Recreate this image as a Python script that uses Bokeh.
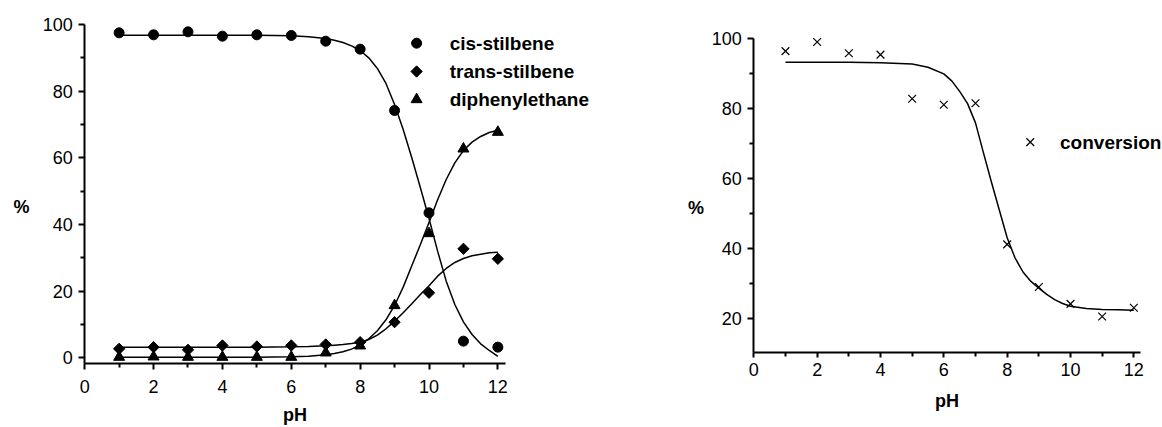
import math
from bokeh.plotting import figure
from bokeh.models import Range1d, FixedTicker, Label
from bokeh.layouts import row
from bokeh.embed import file_html
from bokeh.resources import INLINE

# ---------------- data ----------------
ph = [1, 2, 3, 4, 5, 6, 7, 8, 9, 10, 11, 12]
cis_stilbene = [97.5, 96.9, 97.8, 96.5, 96.9, 96.7, 95.0, 92.6, 74.2, 43.5, 5.0, 3.2]
trans_stilbene = [2.7, 3.2, 2.4, 3.7, 3.4, 3.7, 4.0, 4.7, 10.7, 19.5, 32.7, 29.7]
diphenylethane = [0.2, 0.3, 0.2, 0.2, 0.2, 0.2, 1.5, 3.6, 15.7, 37.3, 62.7, 67.7]

# fitted curves
fit_ph = [1, 2, 3, 4, 5, 6, 6.5, 7, 7.25, 7.5, 7.75, 8, 8.25, 8.5, 8.75, 9,
          9.25, 9.5, 9.75, 10, 10.25, 10.5, 10.75, 11, 11.25, 11.5, 11.75, 12]
cis_fit = [96.8, 96.8, 96.8, 96.8, 96.8, 96.6, 96.3, 95.8, 95.3, 94.6, 93.6, 92.2,
           90.0, 86.8, 82.3, 76.0, 68.5, 60.0, 51.0, 41.8, 32.0, 23.0, 16.0, 10.8,
           7.0, 4.2, 2.2, 0.4]
trans_fit = [3.2, 3.2, 3.2, 3.2, 3.2, 3.3, 3.4, 3.6, 3.8, 4.0, 4.3, 4.7,
             5.5, 6.8, 8.7, 11.0, 13.5, 16.2, 19.0, 21.6, 24.5, 26.8, 28.6, 29.8,
             30.6, 31.1, 31.5, 31.7]
diph_fit = [0.2, 0.2, 0.2, 0.2, 0.2, 0.3, 0.5, 0.9, 1.3, 1.8, 2.6, 3.9,
            5.7, 8.1, 11.4, 15.7, 21.2, 27.6, 34.0, 40.6, 47.4, 53.5, 58.5, 62.2,
            64.7, 66.4, 67.6, 68.3]

conversion = [96.3, 98.9, 95.7, 95.3, 82.7, 81.0, 81.4, 41.1, 28.9, 24.1, 20.5, 23.0]
conv_fit_ph = [1, 2, 3, 4, 5, 5.5, 6, 6.25, 6.5, 6.75, 7, 7.25, 7.5, 7.75, 8, 8.25,
               8.5, 8.75, 9, 9.25, 9.5, 9.75, 10, 10.5, 11, 11.5, 12]
conv_fit = [93.1, 93.1, 93.1, 93.0, 92.6, 91.7, 89.8, 87.8, 84.8, 81.3, 75.8, 67.3,
            59.0, 51.0, 43.0, 37.2, 33.2, 30.5, 28.6, 26.8, 25.3, 24.2, 23.4, 22.8,
            22.5, 22.4, 22.3]

x_major = [0, 2, 4, 6, 8, 10, 12]
x_minor = [1, 3, 5, 7, 9, 11]
y1_major = [0, 20, 40, 60, 80, 100]
y1_minor = [10, 30, 50, 70, 90]
y2_major = [20, 40, 60, 80, 100]
y2_minor = [30, 50, 70, 90]

FONT = "Liberation Sans"


def make_fig(width, xr, yr):
    p = figure(width=width, height=427, x_range=Range1d(*xr), y_range=Range1d(*yr),
               output_backend="svg", toolbar_location=None,
               min_border_left=0, min_border_right=0, min_border_top=0, min_border_bottom=0)
    p.outline_line_color = None
    p.grid.visible = False
    p.background_fill_color = "white"
    p.border_fill_color = "white"
    for ax in p.axis:
        ax.axis_line_color = "black"
        ax.axis_line_width = 2
        ax.major_tick_line_color = "black"
        ax.major_tick_line_width = 2
        ax.minor_tick_line_color = "black"
        ax.minor_tick_line_width = 2
        ax.major_tick_in = 0
        ax.major_tick_out = 6
        ax.minor_tick_in = 0
        ax.minor_tick_out = 4
        ax.major_label_text_font = FONT
        ax.major_label_text_font_size = "18px"
        ax.major_label_text_color = "black"
        ax.major_label_standoff = 6
        ax.axis_label_text_font = FONT
        ax.axis_label_text_font_style = "bold"
        ax.axis_label_text_font_size = "18px"
        ax.axis_label_text_color = "black"
    return p


# ---------------- left chart ----------------
p1 = make_fig(600, (-2.4455, 14.981), (-20.91, 107.2))
p1.xaxis.ticker = FixedTicker(ticks=x_major, minor_ticks=x_minor)
p1.yaxis.ticker = FixedTicker(ticks=y1_major, minor_ticks=y1_minor)
p1.xaxis.fixed_location = -1.62
p1.xaxis.bounds = (0, 12.22)
p1.yaxis.fixed_location = 0
p1.yaxis.bounds = (-1.62, 100)
p1.xaxis.axis_label = "pH"
p1.xaxis.major_label_standoff = 11
p1.xaxis.axis_label_standoff = 8

p1.line(fit_ph, cis_fit, line_color="black", line_width=1.5)
p1.line(fit_ph, trans_fit, line_color="black", line_width=1.5)
p1.line(fit_ph, diph_fit, line_color="black", line_width=1.5)
p1.scatter(ph, cis_stilbene, marker="circle", size=10, color="black")
p1.scatter(ph, trans_stilbene, marker="square", angle=math.pi / 4, size=8, color="black")
p1.scatter(ph, diphenylethane, marker="triangle", size=11, color="black")

# legend
p1.scatter([9.64], [94.4], marker="circle", size=10, color="black")
p1.scatter([9.64], [85.9], marker="square", angle=math.pi / 4, size=8, color="black")
p1.scatter([9.64], [77.5], marker="triangle", size=11, color="black")
for yy, txt in [(94.4, "cis-stilbene"), (85.9, "trans-stilbene"), (77.5, "diphenylethane")]:
    p1.add_layout(Label(x=10.6, y=yy, text=txt, text_font=FONT, text_font_style="bold",
                        text_font_size="19px", text_baseline="middle", text_align="left",
                        text_color="black"))
p1.add_layout(Label(x=-1.836, y=45.1, text="%", text_font=FONT, text_font_style="bold",
                    text_font_size="18px", text_baseline="middle", text_align="center",
                    text_color="black"))

# ---------------- right chart ----------------
p2 = make_fig(562, (-4.841, 12.905), (-11.23, 110.77))
p2.xaxis.ticker = FixedTicker(ticks=x_major, minor_ticks=x_minor)
p2.yaxis.ticker = FixedTicker(ticks=y2_major, minor_ticks=y2_minor)
p2.xaxis.fixed_location = 10.3
p2.xaxis.bounds = (0, 12.22)
p2.yaxis.fixed_location = 0
p2.yaxis.bounds = (10.3, 100)
p2.xaxis.axis_label = "pH"
p2.xaxis.major_tick_out = 5
p2.xaxis.major_label_standoff = 6
p2.xaxis.axis_label_standoff = 11

p2.line(conv_fit_ph, conv_fit, line_color="black", line_width=1.5)
p2.scatter(ph, conversion, marker="x", size=11, line_color="black", line_width=1.2)
p2.scatter([8.73], [70.3], marker="x", size=11, line_color="black", line_width=1.2)
p2.add_layout(Label(x=9.67, y=70.3, text="conversion", text_font=FONT, text_font_style="bold",
                    text_font_size="19px", text_baseline="middle", text_align="left",
                    text_color="black"))
p2.add_layout(Label(x=-1.826, y=51.6, text="%", text_font=FONT, text_font_style="bold",
                    text_font_size="18px", text_baseline="middle", text_align="center",
                    text_color="black"))

layout = row(p1, p2)
open("out.html", "w").write(file_html(layout, INLINE))
